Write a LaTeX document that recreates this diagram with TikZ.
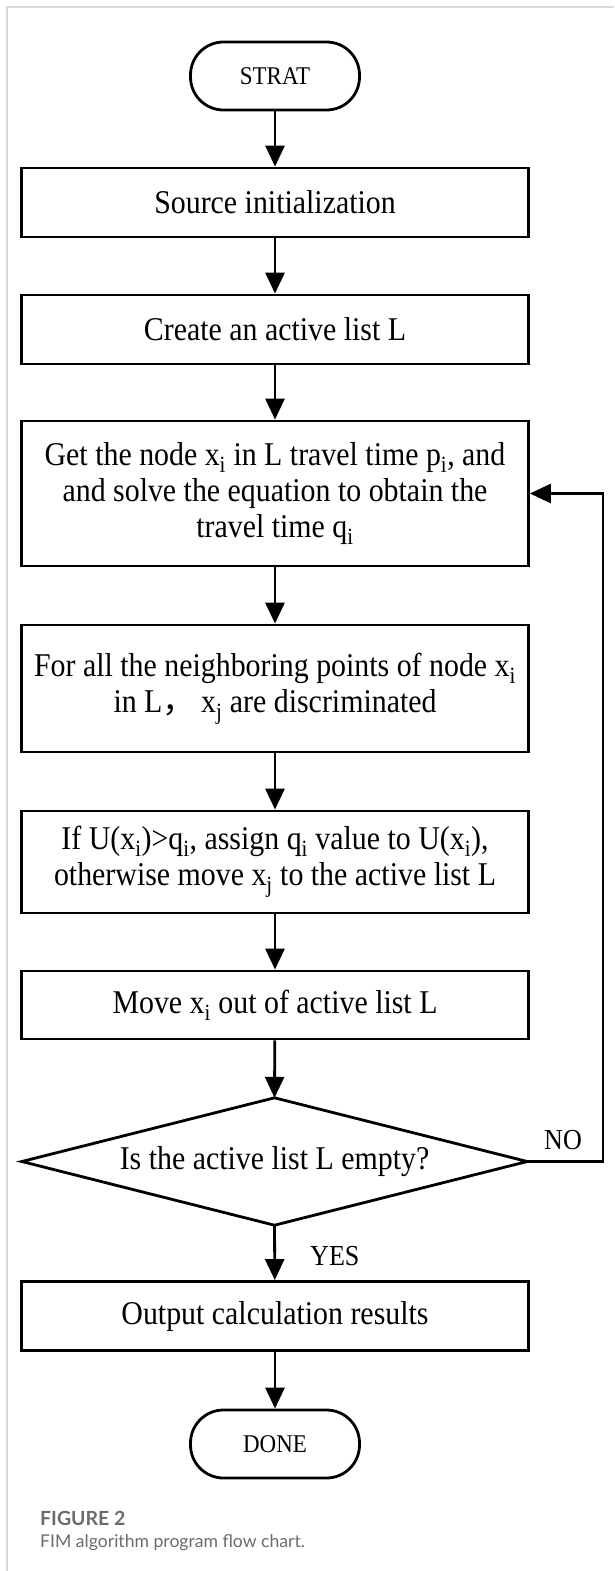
\documentclass[tikz,border=0pt]{standalone}
\usepackage{fontspec}
\setmainfont[FakeStretch=0.9]{Liberation Serif}
\newfontfamily\capfont{Lato}
\newfontfamily\cjkfont{Noto Sans CJK SC}
\usetikzlibrary{arrows.meta}
\begin{document}
\begin{tikzpicture}[x=1pt,y=-1pt,
  box/.style={draw, line width=2.8pt, minimum width=507pt, inner sep=0pt, align=center,
    font=\fontsize{33.2}{36}\selectfont},
  term/.style={draw, line width=2.8pt, minimum width=169pt, minimum height=68pt, rounded corners=33pt,
    inner sep=0pt, font=\fontsize{25.5}{27}\selectfont},
  arr/.style={line width=2.8pt, -{Triangle[width=19pt,length=21pt]}},
  lbl/.style={font=\fontsize{29}{30}\selectfont, inner sep=0pt},
  frameline/.style={draw=black!15, line width=1.4pt}]
\useasboundingbox (0,0) rectangle (614,1571);
\draw[frameline] (7,1571) -- (7,7) -- (614,7);
\node[term] (start) at (275,76) {STRAT};
\node[box, minimum height=69pt] (src) at (275,202.5) {Source initialization};
\node[box, minimum height=69pt] (create) at (275,329.5) {Create an active list L};
\node[box, minimum height=145pt] (get) at (275,493.5) {Get the node x\textsubscript{i} in L travel time p\textsubscript{i}, and\\ and solve the equation to obtain the\\ travel time q\textsubscript{i}};
\node[box, minimum height=127pt] (forall) at (275,688.5) {For all the neighboring points of node x\textsubscript{i}\\ in L{\cjkfont ，}\,x\textsubscript{j} are discriminated};
\node[box, minimum height=102pt] (ifu) at (275,862) {If U(x\textsubscript{i})>q\textsubscript{i}, assign q\textsubscript{i} value to U(x\textsubscript{i}),\\ otherwise move x\textsubscript{j} to the active list L};
\node[box, minimum height=68pt] (move) at (275,1005) {Move x\textsubscript{i} out of active list L};
\node[minimum width=505pt, minimum height=127pt, inner sep=0pt, font=\fontsize{33.2}{36}\selectfont] (dec) at (274.5,1161.5) {Is the active list L empty?};
\draw[line width=2.8pt, line join=miter] (dec.north) -- (dec.east) -- (dec.south) -- (dec.west) -- cycle;
\node[box, minimum height=69pt] (out) at (275,1316) {Output calculation results};
\node[term] (done) at (275,1444) {DONE};
\coordinate (c1) at (603,1161.5);
\coordinate (c2) at (603,493.5);
\draw[arr] (start) -- (src);
\draw[arr] (src) -- (create);
\draw[arr] (create) -- (get);
\draw[arr] (get) -- (forall);
\draw[arr] (forall) -- (ifu);
\draw[arr] (ifu) -- (move);
\draw[arr] (move) -- (dec.north);
\draw[arr] (dec.south) -- (out);
\draw[arr] (out) -- (done);
\draw[arr, line join=miter] (dec.east) -- (c1) -- (c2) -- (get.east);
\node[lbl] (no) at (563,1140) {NO};
\node[lbl, anchor=west] (yes) at (310,1256) {YES};
\node[anchor=west, inner sep=0pt, text=black!58, font=\capfont\bfseries\fontsize{19.5}{22}\selectfont] (fig) at (40,1518) {FIGURE 2};
\node[anchor=west, inner sep=0pt, text=black!58, font=\capfont\fontsize{17.6}{22}\selectfont] (cap) at (40,1543) {FIM algorithm program flow chart.};
\end{tikzpicture}
\end{document}
